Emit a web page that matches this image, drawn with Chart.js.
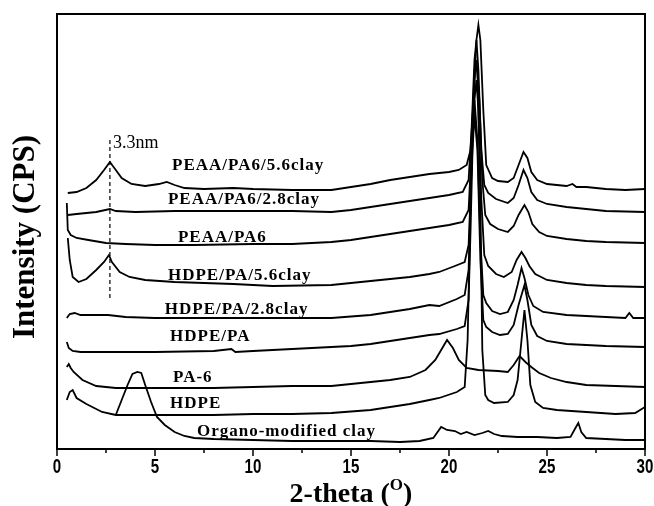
<!DOCTYPE html>
<html>
<head>
<meta charset="utf-8">
<script src="https://cdn.jsdelivr.net/npm/chart.js@4.4.1/dist/chart.umd.min.js"></script>
<style>
  body { margin: 0; background: #fff; }
  canvas { display: block; }
</style>
</head>
<body>
<canvas id="c" width="654" height="506"></canvas>
<script>
// XRD patterns, [2-theta, intensity] with the curves stacked by offset (a.u.)
const peaaPa6Clay56 = [[0.55,256],[1.0,257],[1.5,261],[2.0,269],[2.4,279],[2.7,287],[3.0,279],[3.3,271],[3.8,265],[4.5,263],[5.2,265],[5.6,267],[6.0,264],[6.5,261],[7.5,260],[9,261],[10,260],[12,259],[14,259],[15,262],[16,265],[17,269],[18,272],[19,275],[20,277],[20.5,279],[20.9,284],[21.1,299],[21.25,349],[21.4,409],[21.5,424],[21.6,409],[21.75,339],[21.9,284],[22.2,271],[22.5,268],[23.0,267],[23.3,271],[23.55,284],[23.8,297],[24.0,291],[24.2,277],[24.5,269],[25,265],[26,263],[26.3,265],[26.5,262],[27,262],[28,260],[29,259],[30,260]];
const peaaPa6Clay28 = [[0.55,234],[1,235],[2,237],[2.7,240],[3,238],[4,237],[6,238],[8,238],[10,238],[12,238],[14,237],[15,239],[16,242],[17,245],[18,248],[19,251],[20,254],[20.7,257],[21.0,269],[21.15,319],[21.3,389],[21.4,409],[21.5,379],[21.65,299],[21.8,264],[22.0,256],[22.4,250],[23.0,246],[23.3,251],[23.55,264],[23.8,279],[24.0,271],[24.2,257],[24.5,249],[25,245],[26,242],[27,240],[28,238],[30,237]];
const peaaPa6 = [[0.5,246],[0.55,219],[0.7,214],[1.0,211],[1.6,209],[2.5,206],[3.5,205],[5,204],[7,204],[10,205],[12,205],[14,207],[15,209],[16,212],[17,215],[18,218],[19,221],[20,224],[20.7,227],[21.0,239],[21.15,299],[21.3,369],[21.4,389],[21.55,349],[21.7,269],[21.85,234],[22.1,225],[22.5,220],[23.0,217],[23.3,223],[23.55,234],[23.85,244],[24.05,237],[24.25,225],[24.6,217],[25,213],[26,210],[27,208],[28,207],[30,206]];
const hdpePaClay56 = [[0.55,211],[0.65,189],[0.8,172],[1.1,167],[1.5,170],[2.0,179],[2.4,187],[2.65,194],[2.8,187],[3.2,177],[3.7,172],[4.5,169],[6,167],[9,165],[11,163],[14,164],[15,166],[16,168],[17,170],[18,172],[19,175],[19.5,177],[20.3,183],[20.8,187],[21.0,204],[21.15,279],[21.3,349],[21.4,369],[21.5,339],[21.65,249],[21.8,194],[22.0,183],[22.4,175],[22.8,172],[23.2,177],[23.45,189],[23.7,197],[23.9,191],[24.1,183],[24.4,175],[25,169],[26,166],[27,164],[28,163],[30,162]];
const hdpePaClay28 = [[0.5,131],[0.65,135],[0.9,136],[1.2,134],[1.6,134],[2.6,134],[3.5,132],[5,131],[8,131],[11,131],[14,131],[16,134],[17,137],[18,140],[19,144],[19.5,143],[20.4,150],[20.8,154],[21.0,179],[21.1,249],[21.2,319],[21.3,349],[21.45,309],[21.6,209],[21.75,154],[21.9,146],[22.2,138],[22.6,135],[23.0,137],[23.3,149],[23.5,164],[23.7,181],[23.85,171],[24.05,154],[24.3,143],[24.8,137],[26,134],[27,133],[28,132],[29,131],[29.2,136],[29.4,131],[30,131]];
const hdpePa = [[0.5,107],[0.6,101],[0.8,98],[1.2,97],[5,97],[8,98],[8.9,100],[9.1,97],[10,98],[12,100],[14,102],[15,103],[16,105],[17,108],[18,111],[19,114],[19.5,115],[20.4,120],[20.8,123],[21.0,149],[21.1,219],[21.2,299],[21.3,334],[21.45,299],[21.6,189],[21.75,129],[21.9,122],[22.2,117],[22.6,114],[23.0,115],[23.3,124],[23.55,144],[23.85,164],[24.0,149],[24.2,124],[24.5,113],[25,108],[26,105],[27,104],[28,103],[30,102]];
const pa6 = [[0.5,82],[0.6,85],[0.7,81],[0.85,77],[1.3,69],[2.0,63],[3.0,61],[5,61],[8,61],[10,62],[12,63],[14,63],[15,65],[16,67],[17,69],[18,72],[18.8,79],[19.3,89],[19.6,99],[19.9,109],[20.2,101],[20.5,89],[20.9,81],[21.5,79],[22.5,78],[23.0,77],[23.3,84],[23.6,93],[23.9,87],[24.2,82],[24.6,76],[25.2,71],[26,67],[27,64],[28.5,63],[30,62]];
const hdpe = [[0.5,49],[0.65,57],[0.8,59],[1.0,51],[1.5,45],[2.3,37],[3.0,34],[5,34],[8,34],[10,35],[12,35],[14,36],[16,39],[17,42],[18,45],[19,49],[19.5,51],[20.4,57],[20.8,62],[20.95,109],[21.05,199],[21.15,299],[21.3,379],[21.45,379],[21.6,249],[21.7,99],[21.85,54],[22.0,49],[22.3,46],[23.0,47],[23.3,54],[23.5,69],[23.7,109],[23.85,139],[24.0,109],[24.15,64],[24.4,47],[24.8,41],[25.5,39],[27,37],[28.5,35],[29.5,36],[30,42]];
const organoClay = [[3.0,34],[3.3,49],[3.6,64],[3.85,75],[4.1,77],[4.3,76],[4.5,64],[4.8,47],[5.1,32],[5.5,24],[6.0,17],[6.5,13],[7.0,11],[8,10],[10,9],[12,8],[14,8],[16,8],[17.5,7],[18.5,8],[19.2,11],[19.6,22],[19.9,19],[20.3,18],[20.6,15],[20.9,17],[21.3,14],[21.7,16],[22.0,18],[22.3,15],[22.7,13],[23.5,12],[24.5,12],[25.5,11],[26.2,12],[26.45,21],[26.6,26],[26.75,17],[27.0,11],[28,10],[29,9],[30,9]];

// d-spacing marker at 2.7 deg (3.3 nm)
const markerTheta = 2.7;
const markerRange = [309, 151];

const seriesNames = ['PEAA/PA6/5.6clay', 'PEAA/PA6/2.8clay', 'PEAA/PA6', 'HDPE/PA/5.6clay', 'HDPE/PA/2.8clay', 'HDPE/PA', 'PA-6', 'HDPE', 'Organo-modified clay'];
const seriesData = [peaaPa6Clay56, peaaPa6Clay28, peaaPa6, hdpePaClay56, hdpePaClay28, hdpePa, pa6, hdpe, organoClay];
const xTickValues = [0, 2.5, 5, 7.5, 10, 12.5, 15, 17.5, 20, 22.5, 25, 27.5, 30];
const xTickLabels = ['0', '5', '10', '15', '20', '25', '30'];

// where each curve name sits, in data units [2-theta, intensity]
const labelSpots = [[5.87,283],[5.66,249],[6.17,211],[5.66,173],[5.5,139],[5.77,112],[5.92,71],[5.77,45],[7.14,17]];

const serif = '"Liberation Serif", "DejaVu Serif", serif';
const sans = '"Liberation Sans", "DejaVu Sans", sans-serif';

const datasets = seriesData.map((d, i) => ({
  label: seriesNames[i],
  data: d.map(p => ({ x: p[0], y: p[1] })),
  borderColor: '#000',
  borderWidth: 1.8,
  pointRadius: 0,
  tension: 0,
  fill: false
}));
datasets.push({
  label: '3.3nm',
  data: markerRange.map(v => ({ x: markerTheta, y: v })),
  borderColor: '#000',
  borderWidth: 1.2,
  borderDash: [4, 3],
  pointRadius: 0,
  fill: false
});

const decorations = {
  id: 'decorations',
  afterDraw(chart) {
    const { ctx, chartArea: a, scales: { x, y } } = chart;
    ctx.save();
    ctx.strokeStyle = '#000';
    ctx.fillStyle = '#000';
    ctx.lineWidth = 2;
    ctx.strokeRect(a.left, a.top, a.right - a.left, a.bottom - a.top);

    ctx.lineWidth = 1.5;
    xTickValues.forEach(v => {
      const px = x.getPixelForValue(v);
      const len = v % 5 === 0 ? 7 : 4;
      ctx.beginPath();
      ctx.moveTo(px, a.bottom);
      ctx.lineTo(px, a.bottom + len);
      ctx.stroke();
    });

    // condensed tick numbers
    ctx.font = 'bold 21px ' + sans;
    ctx.textAlign = 'center';
    ctx.textBaseline = 'middle';
    xTickLabels.forEach(t => {
      ctx.save();
      ctx.translate(x.getPixelForValue(Number(t)), 467);
      ctx.scale(0.72, 1);
      ctx.fillText(t, 0, 0);
      ctx.restore();
    });

    // curve names
    ctx.font = 'bold 17px ' + serif;
    ctx.letterSpacing = '1px';
    ctx.textBaseline = 'middle';
    ctx.textAlign = 'left';
    seriesNames.forEach((name, i) => {
      const s = labelSpots[i];
      ctx.fillText(name, x.getPixelForValue(s[0]), y.getPixelForValue(s[1]));
    });
    ctx.letterSpacing = '0px';
    ctx.font = '18px ' + serif;
    ctx.fillText('3.3nm', x.getPixelForValue(2.86), y.getPixelForValue(306));

    // axis titles
    ctx.textBaseline = 'alphabetic';
    ctx.font = 'bold 28px ' + serif;
    const main = '2-theta (';
    const wMain = ctx.measureText(main).width;
    ctx.font = 'bold 17px ' + serif;
    const wSup = ctx.measureText('O').width;
    ctx.font = 'bold 28px ' + serif;
    const wEnd = ctx.measureText(')').width;
    let tx = (a.left + a.right) / 2 - (wMain + wSup + wEnd) / 2;
    const ty = 502;
    ctx.fillText(main, tx, ty);
    tx += wMain;
    ctx.font = 'bold 17px ' + serif;
    ctx.fillText('O', tx, ty - 12);
    tx += wSup;
    ctx.font = 'bold 28px ' + serif;
    ctx.fillText(')', tx, ty);

    ctx.translate(26, 237);
    ctx.rotate(-Math.PI / 2);
    ctx.textAlign = 'center';
    ctx.textBaseline = 'middle';
    ctx.font = 'bold 31px ' + serif;
    ctx.fillText('Intensity (CPS)', 0, 0);
    ctx.restore();
  }
};

new Chart(document.getElementById('c'), {
  type: 'line',
  data: { datasets },
  options: {
    responsive: false,
    animation: false,
    devicePixelRatio: 1,
    layout: { padding: { left: 57, top: 14, right: 9, bottom: 0 } },
    plugins: { legend: { display: false }, tooltip: { enabled: false } },
    scales: {
      x: {
        type: 'linear',
        min: 0,
        max: 30,
        grid: { display: false },
        border: { display: false },
        ticks: { display: false, stepSize: 5 },
        afterFit(scale) { scale.height = 57; }
      },
      y: { display: false, min: 0, max: 435 }
    }
  },
  plugins: [decorations]
});
</script>
</body>
</html>
